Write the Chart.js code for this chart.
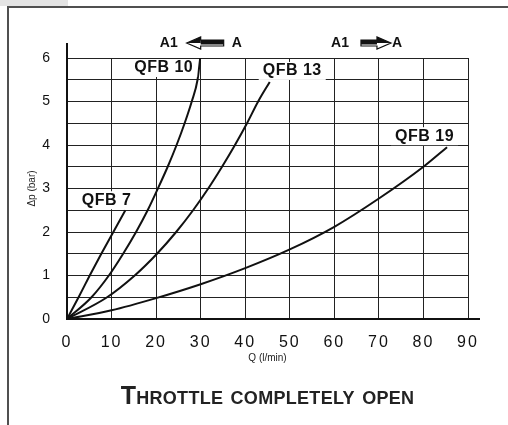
<!DOCTYPE html>
<html>
<head>
<meta charset="utf-8">
<script src="https://cdn.jsdelivr.net/npm/chart.js@4.4.1/dist/chart.umd.min.js"></script>
<style>
  html, body { margin: 0; padding: 0; background: #fff; }
  #wrap { position: relative; width: 508px; height: 425px; overflow: hidden; }
  #tab { position: absolute; left: 0; top: 0; width: 68px; height: 6px; background: #e4e4e4; }
  #topline { position: absolute; left: 7px; top: 6px; right: 0; height: 2px; background: #505050; }
  #leftline { position: absolute; left: 7px; top: 6px; bottom: 0; width: 2px; background: #505050; }
  #chart { position: absolute; left: 0; top: 0; }
  #caption { position: absolute; left: 17px; width: 501px; top: 381px; text-align: center; line-height: 1;
    font: bold 25px "Liberation Sans", Arial, sans-serif; font-variant: small-caps; letter-spacing: 0.3px; color: #222; }
</style>
</head>
<body>
<div id="wrap">
  <div id="tab"></div>
  <div id="topline"></div>
  <div id="leftline"></div>
  <canvas id="chart" width="508" height="425"></canvas>
  <div id="caption">Throttle completely open</div>
</div>
<script>
// ---- data ----
const seriesNames = ['QFB 7', 'QFB 10', 'QFB 13', 'QFB 19'];

const qfb7Q  = [0, 2.6, 5.1, 7.7, 10.4, 13.1];
const qfb7Dp = [0, 0.5, 1, 1.5, 2, 2.5];

const qfb10Q  = [0, 5.5, 9.4, 12.6, 15.5, 18.1, 20.4, 22.6, 24.6, 26.4, 28, 29.3, 29.9];
const qfb10Dp = [0, 0.5, 1, 1.5, 2, 2.5, 3, 3.5, 4, 4.5, 5, 5.5, 6];

const qfb13Q  = [0, 9, 15.2, 20.2, 24.5, 28.3, 31.7, 34.8, 37.7, 40.4, 42.9, 45.5];
const qfb13Dp = [0, 0.5, 1, 1.5, 2, 2.5, 3, 3.5, 4, 4.5, 5, 5.45];

const qfb19Q  = [0, 10, 20, 30, 40, 50, 60, 70, 80, 85.3];
const qfb19Dp = [0, 0.2, 0.48, 0.8, 1.17, 1.6, 2.12, 2.77, 3.5, 3.95];

const xTicks = [0, 10, 20, 30, 40, 50, 60, 70, 80, 90];
const yTicks = [0, 1, 2, 3, 4, 5, 6];

const toPts = (qs, ps) => qs.map((q, i) => ({ x: q, y: ps[i] }));

// label placement relative to the end of each curve: [dx, dy, align]
const labelPlace = [[6, -10, 'right'], [-7, 10, 'right'], [-7, -11, 'left'], [7, -11, 'right']];

const curveLabels = {
    id: 'curveLabels',
    afterDatasetsDraw(chart) {
        const ctx = chart.ctx;
        ctx.save();
        ctx.font = 'bold 16px "Liberation Sans", Arial, sans-serif';
        ctx.letterSpacing = '0.5px';
        ctx.textBaseline = 'middle';
        chart.data.datasets.forEach((ds, i) => {
            const pts = chart.getDatasetMeta(i).data;
            const end = pts[pts.length - 1];
            const [dx, dy, align] = labelPlace[i];
            const w = ctx.measureText(ds.label).width;
            const tx = end.x + dx;
            const ty = end.y + dy;
            const left = align === 'right' ? tx - w : tx;
            ctx.fillStyle = '#fff';
            ctx.fillRect(left - 4, ty - 9, w + 8, 18);
            ctx.fillStyle = '#111';
            ctx.textAlign = align;
            ctx.fillText(ds.label, tx, ty);
        });
        ctx.restore();
    }
};

function drawArrow(ctx, x0, x1, y, pointLeft) {
    // hollow head, black shaft
    const head = 14, hh = 6, sh = 3;
    const dir = pointLeft ? 1 : -1;
    const tip = pointLeft ? x0 : x1;
    const tail = pointLeft ? x1 : x0;
    const hb = tip + dir * head;
    ctx.beginPath();
    ctx.moveTo(tip, y);
    ctx.lineTo(hb, y - hh);
    ctx.lineTo(hb, y - sh);
    ctx.lineTo(tail, y - sh);
    ctx.lineTo(tail, y + sh);
    ctx.lineTo(hb, y + sh);
    ctx.lineTo(hb, y + hh);
    ctx.closePath();
    ctx.lineWidth = 1.2;
    ctx.strokeStyle = '#111';
    ctx.stroke();
    ctx.fillStyle = '#111';
    ctx.fillRect(Math.min(hb, tail), y - sh, Math.abs(tail - hb), sh + 1.5);
    ctx.beginPath();
    ctx.moveTo(tip, y);
    ctx.lineTo(hb, y - hh);
    ctx.lineTo(hb, y);
    ctx.closePath();
    ctx.fill();
}

const decorations = {
    id: 'decorations',
    afterDraw(chart) {
        const ctx = chart.ctx;
        const sx = chart.scales.x;
        const area = chart.chartArea;
        ctx.save();
        // axis lines run a little past the grid
        ctx.strokeStyle = '#111';
        ctx.lineWidth = 2;
        ctx.beginPath();
        ctx.moveTo(area.right, area.bottom);
        ctx.lineTo(area.right + 12, area.bottom);
        ctx.moveTo(area.left, area.top);
        ctx.lineTo(area.left, area.top - 15);
        ctx.stroke();

        // flow direction marks
        const y = area.top - 15;
        ctx.font = 'bold 14px "Liberation Sans", Arial, sans-serif';
        ctx.textBaseline = 'middle';
        ctx.fillStyle = '#111';
        const a = sx.getPixelForValue(30);
        ctx.textAlign = 'right';
        ctx.fillText('A1', a - 23, y);
        ctx.textAlign = 'left';
        ctx.fillText('A', a + 31, y);
        drawArrow(ctx, a - 14, a + 23, y, true);

        const b = sx.getPixelForValue(68);
        ctx.textAlign = 'right';
        ctx.fillStyle = '#111';
        ctx.fillText('A1', b - 21, y);
        ctx.textAlign = 'left';
        ctx.fillText('A', b + 22, y);
        drawArrow(ctx, b - 9, b + 21, y, false);
        ctx.restore();
    }
};

// wider letter spacing on the Q tick labels
const spacedTicks = {
    id: 'spacedTicks',
    afterLayout(chart) {
        const sx = chart.scales.x;
        if (sx._spaced) return;
        const orig = sx.drawLabels.bind(sx);
        sx.drawLabels = function (area) {
            chart.ctx.letterSpacing = '2px';
            orig(area);
            chart.ctx.letterSpacing = '0px';
        };
        sx._spaced = true;
    }
};

const curveStyle = { borderColor: '#111', borderWidth: 2, pointRadius: 0, fill: false, cubicInterpolationMode: 'monotone' };

new Chart(document.getElementById('chart'), {
    type: 'line',
    data: {
        datasets: [
            { label: seriesNames[0], data: toPts(qfb7Q, qfb7Dp), ...curveStyle },
            { label: seriesNames[1], data: toPts(qfb10Q, qfb10Dp), ...curveStyle },
            { label: seriesNames[2], data: toPts(qfb13Q, qfb13Dp), ...curveStyle },
            { label: seriesNames[3], data: toPts(qfb19Q, qfb19Dp), ...curveStyle }
        ]
    },
    options: {
        responsive: false,
        animation: false,
        layout: { padding: { left: 8, top: 58, right: 40, bottom: 56 } },
        plugins: { legend: { display: false }, tooltip: { enabled: false } },
        scales: {
            x: {
                type: 'linear', min: 0, max: 90,
                afterFit(s) { s.height = 50; },
                afterBuildTicks(s) { s.ticks = xTicks.map(v => ({ value: v })); },
                grid: { color: '#222', lineWidth: 1, drawTicks: false },
                border: { color: '#111', width: 2 },
                ticks: { color: '#111', padding: 14, font: { family: '"Liberation Sans", Arial, sans-serif', size: 16 } },
                title: { display: true, text: 'Q (l/min)', color: '#222', padding: { top: 0, bottom: 5 },
                    font: { family: '"Liberation Sans", Arial, sans-serif', size: 10 } }
            },
            y: {
                type: 'linear', min: 0, max: 6,
                afterFit(s) { s.width = 59; },
                ticks: {
                    stepSize: 0.5, color: '#111', padding: 17,
                    font: { family: '"Liberation Sans", Arial, sans-serif', size: 14 },
                    callback: v => (yTicks.includes(v) ? String(v) : '')
                },
                grid: { color: '#222', lineWidth: 1, drawTicks: false },
                border: { color: '#111', width: 2 },
                title: { display: true, text: 'Δp (bar)', color: '#222', padding: { top: 18, bottom: 0 },
                    font: { family: '"Liberation Sans", Arial, sans-serif', size: 10 } }
            }
        }
    },
    plugins: [curveLabels, decorations, spacedTicks]
});
</script>
</body>
</html>
